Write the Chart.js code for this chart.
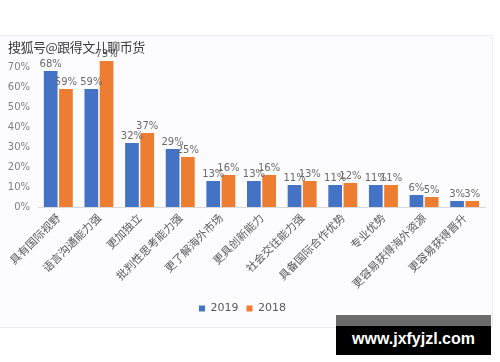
<!DOCTYPE html>
<html>
<head>
<meta charset="utf-8">
<script src="https://cdn.jsdelivr.net/npm/chart.js@4/dist/chart.umd.min.js"></script>
<style>
  html, body { margin: 0; padding: 0; background: #ffffff; }
  #wrap { position: relative; width: 500px; height: 362px; overflow: hidden; }
  #card { position: absolute; left: 0; top: 35px; width: 492px; height: 291px;
          background: #fcfbfd; border: 1px solid #ececec; border-left: none; }
  #chart { position: absolute; left: 0; top: 0; }
  #title { position: absolute; left: 8px; top: 37px; font: 13px "Noto Sans CJK SC", sans-serif;
           color: #3a3a3a; letter-spacing: -0.5px; }
  #mark { position: absolute; left: 336px; top: 315px; width: 155px; height: 40px; background: #000; }
  #mark .band { height: 11px; background: #6b6b6b; }
  #mark .txt { color: #fff; font: bold 16px "Liberation Sans", Arial, sans-serif; text-align: center;
               line-height: 26px; }
</style>
</head>
<body>
<div id="wrap">
  <div id="card"></div>
  <canvas id="chart" width="500" height="362"></canvas>
  <div id="title">搜狐号@跟得文儿聊币货</div>
  <div id="mark"><div class="band"></div><div class="txt">www.jxfyjzl.com</div></div>
</div>
<script>
const categories = ['具有国际视野', '语言沟通能力强', '更加独立', '批判性思考能力强', '更了解海外市场',
    '更具创新能力', '社会交往能力强', '具备国际合作优势', '专业优势', '更容易获得海外资源', '更容易获得晋升'];
const values2019 = [68, 59, 32, 29, 13, 13, 11, 11, 11, 6, 3];
const values2018 = [59, 73, 37, 25, 16, 16, 13, 12, 11, 5, 3];
const yTicks = [0, 10, 20, 30, 40, 50, 60, 70];

const BLUE = '#4472c4';
const ORANGE = '#ed7d31';

// draws the % value above every bar
const barLabels = {
    id: 'barLabels',
    afterDatasetsDraw(chart) {
        const ctx = chart.ctx;
        ctx.save();
        ctx.font = '10px "DejaVu Sans", sans-serif';
        ctx.fillStyle = '#6a6a6a';
        ctx.textAlign = 'center';
        ctx.textBaseline = 'bottom';
        chart.data.datasets.forEach((ds, i) => {
            chart.getDatasetMeta(i).data.forEach((bar, j) => {
                ctx.fillText(ds.data[j] + '%', bar.x, bar.y - 2);
            });
        });
        ctx.restore();
    }
};

const ctx = document.getElementById('chart').getContext('2d');
const chart = new Chart(ctx, {
    type: 'bar',
    data: {
        labels: categories,
        datasets: [
            { label: '2019', data: values2019, backgroundColor: BLUE, borderWidth: 0 },
            { label: '2018', data: values2018, backgroundColor: ORANGE, borderWidth: 0 }
        ]
    },
    options: {
        responsive: false,
        animation: false,
        layout: { padding: { top: 47, left: 0, right: 15, bottom: 38 } },
        datasets: { bar: { categoryPercentage: 0.75, barPercentage: 0.9 } },
        scales: {
            x: {
                grid: { display: false, drawTicks: false },
                border: { display: true, color: '#d9d9d9' },
                ticks: {
                    minRotation: 45, maxRotation: 45, autoSkip: false, padding: 4,
                    color: '#595959', font: { size: 11, family: '"Noto Sans CJK SC", sans-serif' }
                },
                afterFit(scale) { scale.height = 88; }
            },
            y: {
                min: 0, max: 80,
                grid: { display: false, drawTicks: false },
                border: { display: false },
                afterBuildTicks(scale) { scale.ticks = yTicks.map(v => ({ value: v })); },
                ticks: {
                    padding: 8, color: '#7f7f7f',
                    font: { size: 10, family: '"DejaVu Sans", sans-serif' },
                    callback: v => v + '%'
                },
                afterFit(scale) { scale.width = 38; }
            }
        },
        plugins: {
            legend: {
                position: 'bottom',
                labels: {
                    boxWidth: 6, boxHeight: 6, padding: 8, color: '#595959',
                    font: { size: 11, family: '"DejaVu Sans", sans-serif' }
                }
            },
            tooltip: { enabled: false }
        }
    },
    plugins: [barLabels]
});
</script>
</body>
</html>
